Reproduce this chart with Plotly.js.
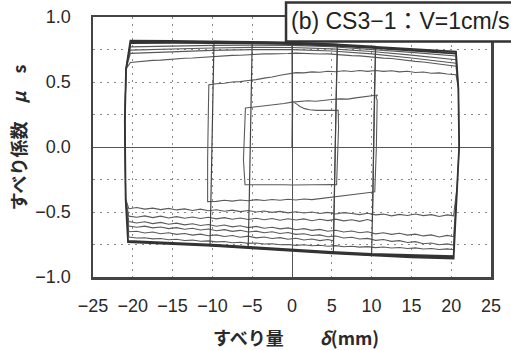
<!DOCTYPE html>
<html><head><meta charset="utf-8">
<script src="https://cdn.plot.ly/plotly-3.0.1.min.js"></script>
<style>html,body{margin:0;padding:0;background:#fff}#chart{width:511px;height:350px}</style>
</head><body><div id="chart"></div>
<script>
// ---- displacement grids (mm) ----
const xUp = [-20.3,-19.5,-18.5,-17.5,-16.5,-15.5,-14.5,-13.5,-12.5,-11.5,-10.5,-9.5,-8.5,-7.5,-6.5,-5.5,-4.5,-3.5,-2.5,-1.5,-0.5,0.5,1.5,2.5,3.5,4.5,5.5,6.5,7.5,8.5,9.5,10.5,11.5,12.5,13.5,14.5,15.5,16.5,17.5,18.5,19.5,20.6];
const xLo = [20.3,19.5,18.5,17.5,16.5,15.5,14.5,13.5,12.5,11.5,10.5,9.5,8.5,7.5,6.5,5.5,4.5,3.5,2.5,1.5,0.5,-0.5,-1.5,-2.5,-3.5,-4.5,-5.5,-6.5,-7.5,-8.5,-9.5,-10.5,-11.5,-12.5,-13.5,-14.5,-15.5,-16.5,-17.5,-18.5,-19.5,-20.5];
const xS  = [-20.3,-15,-10,-5,0,5,10,15,20.6];
const xSb = [20.3,15,10,5,0,-5,-10,-15,-20.6];

// ---- reversal (sticking) segments ----
const leftRevX = [-20.9,-21.0,-20.85], leftRevY = [-0.40,0.20,0.60];
const rightRevX = [20.9,21.0,20.75], rightRevY = [0.45,0.0,-0.30];

// ---- first small loops ----
const x0 = [0,0.02], y0 = [0,0.35];
const xU0 = [0.1,0.6,1.0,1.6,2.2,3.1,4.0,5.0,5.8];
const yU0 = [0.350,0.330,0.312,0.295,0.287,0.282,0.281,0.282,0.283];
const xR1 = [5.85,5.75,5.6], yR1 = [0.15,-0.10,-0.29];
const xL1 = [5.3,4,3,2,1,0,-1,-2,-3,-4,-5,-5.9];
const yL1 = [-0.288,-0.290,-0.289,-0.291,-0.290,-0.292,-0.290,-0.291,-0.289,-0.290,-0.291,-0.290];
const xRL1 = [-6.1,-6.0,-5.85], yRL1 = [-0.10,0.15,0.30];
const xU1 = [-5.8,-5.0,-4.0,-3.0,-2.0,-1.0,0.0,1.0,2.0,3.0,4.0,5.0,6.0,7.0,8.0,9.0,10.0,10.6];
const yU1 = [0.300,0.305,0.312,0.318,0.328,0.334,0.345,0.348,0.356,0.352,0.360,0.365,0.370,0.368,0.378,0.385,0.392,0.395];
const xR2 = [10.75,10.55,10.7,10.6,10.45], yR2 = [0.400,0.385,0.360,0.0,-0.345];
const xL2 = [10.4,9.5,8.5,7.5,6.5,5.5,4.5,3.5,2.5,1.5,0.5,-0.5,-1.5,-2.5,-3.5,-4.5,-5.5,-6.5,-7.5,-8.5,-9.5,-10.6];
const yL2 = [-0.345,-0.352,-0.360,-0.365,-0.375,-0.380,-0.392,-0.395,-0.405,-0.400,-0.408,-0.402,-0.410,-0.404,-0.412,-0.405,-0.414,-0.408,-0.416,-0.410,-0.418,-0.420];
const xRL2 = [-10.6,-10.5,-10.45], yRL2 = [-0.10,0.30,0.478];
const yU2 = [0.478,0.487,0.490,0.500,0.503,0.512,0.518,0.530,0.538,0.552,0.560,0.572,0.570,0.578,0.575,0.583,0.579,0.586,0.581,0.588,0.582,0.588,0.582,0.587,0.578,0.583,0.573,0.577,0.567,0.570,0.561,0.556];

// ---- full-stroke cycles: upper branches (left -> right) ----
const yUa = [0.650,0.656,0.660,0.666,0.668,0.674,0.677,0.683,0.685,0.690,0.693,0.698,0.700,0.705,0.706,0.711,0.712,0.716,0.716,0.720,0.719,0.722,0.719,0.720,0.715,0.716,0.710,0.709,0.703,0.701,0.694,0.692,0.684,0.681,0.672,0.668,0.659,0.654,0.645,0.640,0.630,0.622];
const yUc = [0.720,0.733,0.743,0.749,0.749,0.738,0.716,0.685,0.645];
const yUd = [0.745,0.755,0.762,0.766,0.765,0.755,0.735,0.707,0.672];
const yUe = [0.770,0.777,0.782,0.784,0.782,0.771,0.752,0.728,0.700];
const yUf = [0.800,0.801,0.800,0.797,0.792,0.780,0.762,0.742,0.718];
const yEnvT1 = [0.815,0.814,0.812,0.808,0.802,0.790,0.772,0.752,0.733];

// ---- lower branches (right -> left) ----
const yLa = [-0.530,-0.522,-0.535,-0.520,-0.528,-0.515,-0.527,-0.518,-0.530,-0.516,-0.522,-0.510,-0.520,-0.512,-0.505,-0.515,-0.503,-0.512,-0.500,-0.508,-0.498,-0.507,-0.495,-0.503,-0.492,-0.500,-0.488,-0.497,-0.486,-0.494,-0.483,-0.490,-0.478,-0.488,-0.476,-0.484,-0.472,-0.482,-0.470,-0.478,-0.466,-0.475];
const yLb = [-0.570,-0.558,-0.572,-0.560,-0.568,-0.555,-0.566,-0.556,-0.567,-0.553,-0.562,-0.552,-0.563,-0.550,-0.560,-0.548,-0.558,-0.546,-0.556,-0.543,-0.553,-0.541,-0.550,-0.538,-0.548,-0.536,-0.546,-0.532,-0.543,-0.530,-0.540,-0.532];
const yLc = [-0.690,-0.680,-0.692,-0.676,-0.684,-0.670,-0.678,-0.664,-0.672,-0.660,-0.668,-0.652,-0.660,-0.646,-0.654,-0.640,-0.648,-0.634,-0.641,-0.628,-0.636,-0.622,-0.630,-0.617,-0.625,-0.611,-0.620,-0.606,-0.614,-0.600,-0.609,-0.596,-0.604,-0.590,-0.599,-0.586,-0.594,-0.580,-0.589,-0.575,-0.584,-0.574];
const yLd = [-0.755,-0.745,-0.752,-0.738,-0.744,-0.728,-0.735,-0.720,-0.726,-0.712,-0.718,-0.703,-0.708,-0.694,-0.700,-0.685,-0.690,-0.676,-0.681,-0.667,-0.672,-0.658,-0.665,-0.652,-0.660,-0.647,-0.654,-0.641,-0.649,-0.636,-0.644,-0.631,-0.638,-0.625,-0.633,-0.620,-0.628,-0.615,-0.622,-0.609,-0.617,-0.608];
const yLe = [-0.722,-0.712,-0.720,-0.708,-0.715,-0.702,-0.710,-0.697,-0.704,-0.692,-0.699,-0.686,-0.694,-0.681,-0.688,-0.676,-0.683,-0.670,-0.678,-0.665,-0.672,-0.660,-0.667,-0.654,-0.661,-0.648,-0.652];
const yLf = [-0.790,-0.784,-0.789,-0.781,-0.785,-0.776,-0.781,-0.773,-0.777,-0.769,-0.774,-0.766,-0.770,-0.763,-0.767,-0.759,-0.764,-0.756,-0.760,-0.752,-0.757,-0.750,-0.752,-0.744,-0.746,-0.738,-0.741,-0.733,-0.736,-0.727,-0.730,-0.722,-0.725,-0.716,-0.719,-0.710,-0.713,-0.704,-0.707,-0.698,-0.700,-0.692];
const yEnvB1 = [-0.840,-0.833,-0.822,-0.806,-0.787,-0.768,-0.752,-0.738,-0.722];
const yEnvB2 = [-0.850,-0.842,-0.830,-0.812,-0.793,-0.773,-0.757,-0.742,-0.727];
const yEnvB3 = [-0.858,-0.849,-0.836,-0.818,-0.798,-0.778,-0.761,-0.746,-0.731];

// ---- final short-stroke cycles at high friction ----
const finX = [-20.3,-15,-10,-5,0,5,10.5,10.35,10.15,10.0,5,0,-5,-10.3,-10.15,-9.95,-9.8,-5,0,5.7,5.55,5.35,5.2,0,-5.5,-5.35,-5.15,-5.0,0,0.05];
const finY = [0.818,0.816,0.813,0.809,0.803,0.791,0.772,0.40,-0.40,-0.832,-0.815,-0.795,-0.775,-0.760,-0.35,0.40,0.812,0.808,0.802,0.790,0.40,-0.40,-0.815,-0.795,-0.776,-0.35,0.40,0.809,0.803,0.0];
const xLbRev = [10.5,10.35,10.1], yLbRev = [0.772,0.30,-0.570];
const xLeRev = [5.7,5.45,5.2], yLeRev = [0.790,0.10,-0.722];

function path(segs){
  const x=[], y=[];
  segs.forEach(s=>{ for(let i=0;i<s[0].length;i++){ x.push(s[0][i]); y.push(s[1][i]); } });
  return {x, y};
}
const L = [leftRevX,leftRevY], R = [rightRevX,rightRevY];

const pA = path([[x0,y0],[xU0,yU0],[xR1,yR1],[xL1,yL1],[xRL1,yRL1],[xU1,yU1],[xR2,yR2],[xL2,yL2],[xRL2,yRL2],
  [xUp.slice(10),yU2],R,[xLo,yLa],L,[xUp,yUa],R,[xLo,yLc],L,[xS,yUc],R,[xLo,yLd],L,[xS,yUd],R,[xLo,yLf],L,[xS,yUe],R]);
const pB = path([[xSb,yEnvB1],L,[xS,yUf],R,[xSb,yEnvB2],L,[xS,yEnvT1],R,[xSb,yEnvB3],L,[finX.slice(0,7),finY.slice(0,7)]]);
const pE = path([[finX.slice(6),finY.slice(6)]]);
const pC = path([[xLbRev,yLbRev],[xLo.slice(11),yLb.slice(1)],L,[[-20.3],[0.80]]]);
const pD = path([[xLeRev,yLeRev],[xLo.slice(16),yLe.slice(1)],L,[[-20.3],[0.80]]]);

const traces = [
  {x:pA.x, y:pA.y, mode:'lines', line:{color:'#5a5a5a', width:1.1}, hoverinfo:'skip'},
  {x:pC.x, y:pC.y, mode:'lines', line:{color:'#5a5a5a', width:1.1}, hoverinfo:'skip'},
  {x:pD.x, y:pD.y, mode:'lines', line:{color:'#5a5a5a', width:1.1}, hoverinfo:'skip'},
  {x:pE.x, y:pE.y, mode:'lines', line:{color:'#444444', width:1.2}, hoverinfo:'skip'},
  {x:pB.x, y:pB.y, mode:'lines', line:{color:'#333333', width:1.8}, hoverinfo:'skip'}
];

const gridDash = '1.5px,5.5px';
const layout = {
  width:511, height:350,
  margin:{l:93, r:20, t:17, b:73, pad:0},
  paper_bgcolor:'#ffffff', plot_bgcolor:'#ffffff', showlegend:false,
  font:{family:'Liberation Sans, Arial, Noto Sans CJK JP, sans-serif', size:18, color:'#2a2a2a'},
  xaxis:{range:[-25,25], tick0:0, dtick:5, ticks:'', ticklabelstandoff:11,
    showgrid:true, gridcolor:'#8a8a8a', gridwidth:1, griddash:gridDash,
    zeroline:true, zerolinecolor:'#555555', zerolinewidth:1,
    showline:true, mirror:true, linecolor:'#444444', linewidth:2.5, fixedrange:true},
  yaxis:{range:[-1,1], tick0:0, dtick:0.5, tickformat:'.1f', ticks:'', ticklabelstandoff:16,
    showgrid:true, gridcolor:'#8a8a8a', gridwidth:1, griddash:gridDash,
    minor:{dtick:0.25, showgrid:true, gridcolor:'#8a8a8a', gridwidth:1, griddash:gridDash},
    zeroline:true, zerolinecolor:'#555555', zerolinewidth:1,
    showline:true, mirror:true, linecolor:'#444444', linewidth:2.5, fixedrange:true},
  shapes:[{type:'rect', xref:'paper', yref:'paper', x0:0.485, x1:1.1, y0:0.906, y1:1.056,
    line:{color:'#333333', width:2.5}, fillcolor:'#ffffff', layer:'above'}],
  annotations:[
    {text:'(b) CS3−1：V=1cm/s', xref:'paper', yref:'paper', x:0.4925, y:0.985, xanchor:'left', yanchor:'middle',
     showarrow:false, font:{size:23, color:'#222222', family:'Liberation Sans, Arial, Noto Sans CJK JP, sans-serif'}},
    {text:'すべり量　　<i>δ</i>(mm)', xref:'paper', yref:'paper', x:0.51, y:-0.231, xanchor:'center', yanchor:'middle',
     showarrow:false, font:{size:18, color:'#2a2a2a', weight:'bold', family:'Noto Sans CJK JP, sans-serif'}},
    {text:'すべり係数　<i>μ</i>　s', xref:'paper', yref:'paper', x:-0.188, y:0.538, xanchor:'center', yanchor:'middle',
     textangle:-90, showarrow:false, font:{size:18, color:'#2a2a2a', weight:'bold', family:'Noto Sans CJK JP, sans-serif'}}
  ]
};
Plotly.newPlot('chart', traces, layout, {displayModeBar:false, staticPlot:true});
</script></body></html>
